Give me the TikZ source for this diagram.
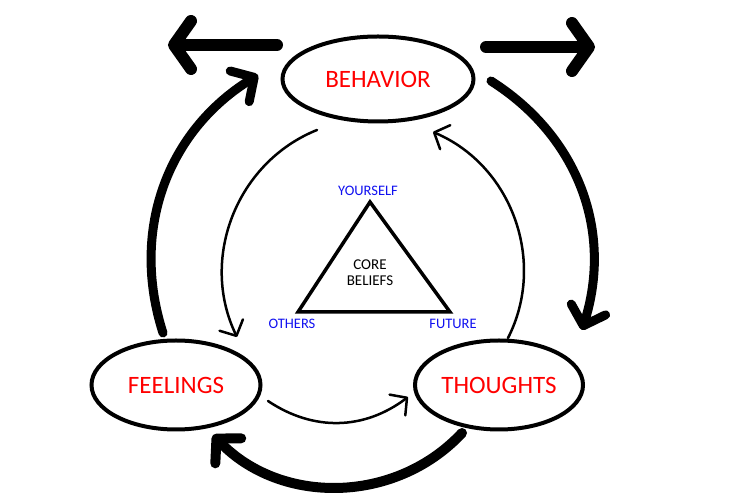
\documentclass[tikz,border=0pt]{standalone}
\usepackage{fontspec}
\setmainfont{Carlito}
\usepackage{xcolor}
\usepackage{tikz}
\usetikzlibrary{shapes.geometric,arrows.meta}

\begin{document}
\begin{tikzpicture}[
  box/.style={draw,ellipse,line width=4pt,inner sep=0,text=main,
    font=\fontsize{25}{30}\selectfont},
  corner/.style={text=side,font=\fontsize{14.5}{17}\selectfont},
  big/.style={line width=12pt,line cap=round,
    -{Straight Barb[round,length=17pt,width=48pt]}},
  outer/.style={line width=9pt,line cap=round,
    -{Straight Barb[round,length=17pt,width=36pt]}},
  inner/.style={line width=2.5pt,line cap=round,
    -{Straight Barb[round,length=12pt,width=26pt]}},
  x=1pt,y=1pt]

  \definecolor{main}{HTML}{FF0000}
  \definecolor{side}{HTML}{1010F0}

  \useasboundingbox (0,0) rectangle (750,500);

  % ------------------- ellipses ----------------------
  \node[box,minimum width=191,minimum height=85] (behavior) at (378,421) {BEHAVIOR};
  \node[box,minimum width=169,minimum height=89] (feelings) at (176,115) {FEELINGS};
  \node[box,minimum width=168,minimum height=89] (thoughts) at (499,115) {THOUGHTS};

  % ------------------- triangle ----------------------
  \coordinate (top)   at (370,298);
  \coordinate (left)  at (298,188);
  \coordinate (right) at (450,188);
  \draw[line width=3.5pt] (top) -- (right) -- (left) -- cycle;

  \node[corner] (yourself) at (368,309) {YOURSELF};
  \node[corner] (others)   at (292,176) {OTHERS};
  \node[corner] (future)   at (453,176) {FUTURE};
  \node[align=center,font=\fontsize{15}{16}\selectfont] (core) at (370,227) {CORE\\BELIEFS};

  % ------------------- top arrows ----------------------
  \coordinate (bl0) at (277,455);
  \coordinate (bl1) at (168,455);
  \coordinate (br0) at (486,453);
  \coordinate (br1) at (595,453);
  \draw[big] (bl0) -- (bl1);
  \draw[big] (br0) -- (br1);

  % ------------------- outer ring ----------------------
  \coordinate (o1) at (163,167);
  \coordinate (o2) at (258,425);
  \coordinate (o3) at (491,419);
  \coordinate (o4) at (582,170);
  \coordinate (o5) at (462,67);
  \coordinate (o6) at (213,65);
  \draw[outer] (o1) to[bend left=38] (o2);
  \draw[outer] (o3) to[bend left=37.5] (o4);
  \draw[outer,line width=10pt] (o5) to[bend left=46.5] (o6);

  % ------------------- inner ring ----------------------
  \coordinate (i1) at (317,370);
  \coordinate (i2) at (237,163);
  \coordinate (i3) at (508,162);
  \coordinate (i4) at (433,368);
  \coordinate (i5) at (268,99);
  \coordinate (i6) at (408,103);
  \draw[inner] (i1) to[bend right=47] (i2);
  \draw[inner] (i3) to[bend right=47] (i4);
  \draw[inner] (i5) to[bend right=35.5] (i6);
\end{tikzpicture}
\end{document}
